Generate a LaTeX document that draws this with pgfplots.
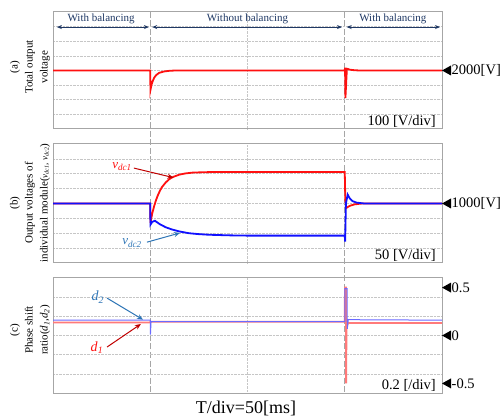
\documentclass[border=0pt]{standalone}
\usepackage{fontspec}
\setmainfont{Liberation Serif}
\usepackage{pgfplots}
\pgfplotsset{compat=1.18}
\usetikzlibrary{arrows.meta}
\definecolor{navy}{HTML}{1F3864}
\definecolor{darkred}{HTML}{C00000}
\definecolor{midblue}{HTML}{2E75B6}
\definecolor{framegray}{HTML}{A6A6A6}
\definecolor{tred}{HTML}{FF1010}
\definecolor{tblue}{HTML}{1010FF}
\definecolor{lred}{HTML}{FF7A7A}
\definecolor{lblue}{HTML}{6A6AFF}

\pgfplotstableread{
t v
0 2000
50 2000
50.1 1867
50.6 1900
51.2 1925
52 1950
53 1968
54.6 1984
57 1993
60 1998
63 2000
150 2000
150.15 2019
150.35 1812
150.7 1905
151.1 2012
151.7 2010
152.5 2006
154 2003
156 2001
158 2000
200 2000
}\totalv

\pgfplotstableread{
t v
0 1000
50 1000
50.1 935
51 966
52 991
53 1012
54 1029
55 1043
56 1055
58 1071
60 1083
62 1090
65 1097
68 1101
72 1104
80 1105.5
90 1106
150 1106
150.3 1010
150.8 985
152 990
153 993
155 997
158 999.5
160 1000
200 1000
}\vdcone

\pgfplotstableread{
t v
0 1000
50 1000
50.1 929
51 938
52.4 942
55 930
58 920
61 913
65 906
70 900
75 897
80 895
90 893
100 892
150 892
150.2 872
150.6 1000
151.5 1030
152.5 1018
154 1008
156 1003
160 1000
200 1000
}\vdctwo

\pgfplotstableread{
t d
0 0.136
50 0.136
50.1 0.144
150 0.144
150.1 0.5
150.6 0.5
150.7 -0.5
150.9 0.08
151.5 0.12
152 0.13
200 0.13
}\done

\pgfplotstableread{
t d
0 0.16
50 0.16
50.1 0.01
50.4 0.145
150 0.145
150.1 0.49
151.2 0.49
151.3 0.07
151.8 0.165
200 0.16
}\dtwo

\pgfplotsset{osc/.style={
  scale only axis, width=389pt, xmin=0, xmax=200,
  axis line style={framegray, line width=1pt},
  grid=major, grid style={densely dotted, gray!45, line width=0.6pt},
  xtick={100}, xticklabels={}, yticklabels={},
  major tick length=0pt, tick style={draw=none},
  clip=false, anchor=north west}}

\newcommand{\tri}[1]{\fill (#1) -- ++(9pt,5pt) -- ++(0pt,-10pt) -- cycle;}

\begin{document}
\begin{tikzpicture}[x=1pt,y=1pt]
\useasboundingbox (0,0) rectangle (503,-419);

% event lines
\draw[framegray, line width=1pt, dash pattern=on 6pt off 2.5pt] (150.25,-12) -- (150.25,-393);
\draw[framegray, line width=1pt, dash pattern=on 6pt off 2.5pt] (344.75,-12) -- (344.75,-393);

% panel (a)
\begin{axis}[osc, at={(53pt,-12pt)}, height=117pt, ymin=1600, ymax=2400,
  ytick={1700,1800,...,2300}]
\addplot[tred, line width=1.8pt] table[x=t,y=v] {\totalv};
\draw[navy, line width=1pt, {Stealth[length=5pt,width=4pt]}-{Stealth[length=5pt,width=4pt]}] (axis cs:2,2297) -- (axis cs:49.3,2297);
\draw[navy, line width=1pt, {Stealth[length=5pt,width=4pt]}-{Stealth[length=5pt,width=4pt]}] (axis cs:51,2297) -- (axis cs:148.6,2297);
\draw[navy, line width=1pt, {Stealth[length=5pt,width=4pt]}-{Stealth[length=5pt,width=4pt]}] (axis cs:151,2297) -- (axis cs:199,2297);
\node[navy, font=\fontsize{11}{13}\selectfont, inner sep=0pt] at (axis cs:24.7,2352) {With balancing};
\node[navy, font=\fontsize{11}{13}\selectfont, inner sep=0pt] at (axis cs:100,2352) {Without balancing};
\node[navy, font=\fontsize{11}{13}\selectfont, inner sep=0pt] at (axis cs:174.7,2352) {With balancing};
\tri{axis cs:200,2000}
\node[anchor=west, xshift=9.5pt, inner sep=0pt, font=\fontsize{14.5}{16}\selectfont] at (axis cs:200,2000) {2000[V]};
\node[anchor=south east, xshift=-6pt, yshift=1pt, inner sep=0pt, font=\fontsize{14.5}{16}\selectfont] at (rel axis cs:1,0) {100 [V/div]};
\end{axis}

% panel (b)
\begin{axis}[osc, at={(53pt,-144pt)}, height=119pt, ymin=800, ymax=1200,
  ytick={850,900,...,1150}]
\addplot[tred, line width=1.8pt] table[x=t,y=v] {\vdcone};
\addplot[tblue, line width=1.8pt] table[x=t,y=v] {\vdctwo};
\draw[darkred, line width=1pt, -{Stealth[length=6pt,width=5pt]}] (axis cs:41.6,1119) -- (axis cs:61.9,1087);
\node[tred, font=\fontsize{13}{15}\selectfont, inner sep=0pt] at (axis cs:35.5,1123) {\textit{v}\textsubscript{\textit{dc1}}};
\draw[midblue, line width=1pt, -{Stealth[length=6pt,width=5pt]}] (axis cs:48.3,870) -- (axis cs:65.3,901);
\node[midblue, font=\fontsize{13}{15}\selectfont, inner sep=0pt] at (axis cs:40.6,867) {\textit{v}\textsubscript{\textit{dc2}}};
\tri{axis cs:200,1000}
\node[anchor=west, xshift=9.5pt, inner sep=0pt, font=\fontsize{14.5}{16}\selectfont] at (axis cs:200,1000) {1000[V]};
\node[anchor=south east, xshift=-6pt, yshift=1pt, inner sep=0pt, font=\fontsize{14.5}{16}\selectfont] at (rel axis cs:1,0) {50 [V/div]};
\end{axis}

% panel (c)
\begin{axis}[osc, at={(53pt,-278pt)}, height=115pt, ymin=-0.6, ymax=0.6,
  ytick={-0.4,-0.2,0,0.2,0.4}]
\addplot[lred, line width=1.8pt] table[x=t,y=d] {\done};
\addplot[lblue, line width=1pt] table[x=t,y=d] {\dtwo};
\draw[midblue, line width=1pt, -{Stealth[length=6pt,width=5pt]}] (axis cs:27.8,0.39) -- (axis cs:46.3,0.165);
\node[midblue, font=\fontsize{14}{16}\selectfont, inner sep=0pt] at (axis cs:23.1,0.40) {\textit{d}\textsubscript{\textit{2}}};
\draw[darkred, line width=1pt, -{Stealth[length=6pt,width=5pt]}] (axis cs:27.8,-0.12) -- (axis cs:45.2,0.12);
\node[tred, font=\fontsize{14}{16}\selectfont, inner sep=0pt] at (axis cs:22.6,-0.13) {\textit{d}\textsubscript{\textit{1}}};
\tri{axis cs:200,0.5}
\tri{axis cs:200,0}
\tri{axis cs:200,-0.5}
\node[anchor=west, xshift=9.5pt, inner sep=0pt, font=\fontsize{14.5}{16}\selectfont] at (axis cs:200,0.5) {0.5};
\node[anchor=west, xshift=9.5pt, inner sep=0pt, font=\fontsize{14.5}{16}\selectfont] at (axis cs:200,0) {0};
\node[anchor=west, xshift=9.5pt, inner sep=0pt, font=\fontsize{14.5}{16}\selectfont] at (axis cs:200,-0.5) {-0.5};
\node[anchor=south east, xshift=-6pt, yshift=1pt, inner sep=0pt, font=\fontsize{14.5}{16}\selectfont] at (rel axis cs:1,0) {0.2 [/div]};
\end{axis}

% left labels
\node[rotate=90, align=center, font=\fontsize{11}{15}\selectfont] at (30,-67) {(a)\\Total output\\voltage};
\node[rotate=90, align=center, font=\fontsize{11}{15}\selectfont] at (30,-203) {(b)\\Output voltages of\\individual module({\fontsize{9}{10}\selectfont\textit{v}\textsubscript{\textit{dc1}}, \textit{v}\textsubscript{\textit{dc2}}})};
\node[rotate=90, align=center, font=\fontsize{11}{15}\selectfont] at (30,-330) {(c)\\Phase shift\\ratio(\textit{d}\textsubscript{\textit{1}},\textit{d}\textsubscript{\textit{2}})};

\node[font=\fontsize{18}{20}\selectfont, inner sep=0pt] at (246,-408) {T/div=50[ms]};
\end{tikzpicture}
\end{document}
